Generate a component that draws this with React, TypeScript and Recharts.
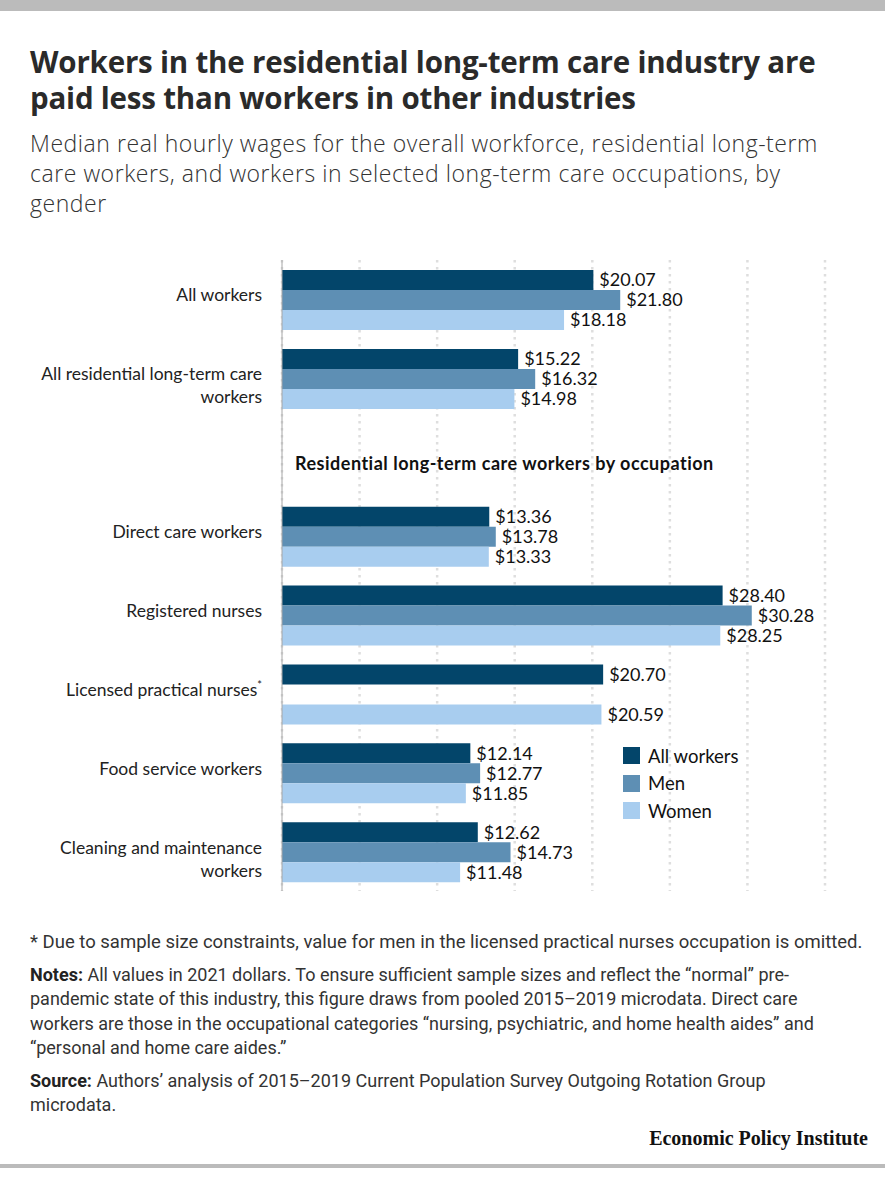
import React from "react";
import {
  BarChart,
  Bar,
  XAxis,
  YAxis,
  CartesianGrid,
  LabelList,
  Legend,
  ReferenceLine,
} from "recharts";

const categories = [
  "All workers",
  "All residential long-term care workers",
  "section",
  "Direct care workers",
  "Registered nurses",
  "Licensed practical nurses",
  "Food service workers",
  "Cleaning and maintenance workers",
];

// wrapped tick text for each category
const tickLines: Record<string, string[]> = {
  "All workers": ["All workers"],
  "All residential long-term care workers": ["All residential long-term care", "workers"],
  section: [],
  "Direct care workers": ["Direct care workers"],
  "Registered nurses": ["Registered nurses"],
  "Licensed practical nurses": ["Licensed practical nurses"],
  "Food service workers": ["Food service workers"],
  "Cleaning and maintenance workers": ["Cleaning and maintenance", "workers"],
};

const footnoted = ["Licensed practical nurses"];

const allWorkers = [20.07, 15.22, null, 13.36, 28.4, 20.7, 12.14, 12.62];
const men = [21.8, 16.32, null, 13.78, 30.28, null, 12.77, 14.73];
const women = [18.18, 14.98, null, 13.33, 28.25, 20.59, 11.85, 11.48];

const xTicks = [0, 5, 10, 15, 20, 25, 30, 35];

const sectionTitle = "Residential long-term care workers by occupation";

const titleLines = [
  "Workers in the residential long-term care industry are",
  "paid less than workers in other industries",
];
const subtitleLines = [
  "Median real hourly wages for the overall workforce, residential long-term",
  "care workers, and workers in selected long-term care occupations, by",
  "gender",
];
const footnote =
  "* Due to sample size constraints, value for men in the licensed practical nurses occupation is omitted.";
const noteLines = [
  "All values in 2021 dollars. To ensure sufficient sample sizes and reflect the “normal” pre-",
  "pandemic state of this industry, this figure draws from pooled 2015–2019 microdata. Direct care",
  "workers are those in the occupational categories “nursing, psychiatric, and home health aides” and",
  "“personal and home care aides.”",
];
const sourceLines = [
  "Authors’ analysis of 2015–2019 Current Population Survey Outgoing Rotation Group",
  "microdata.",
];

const COLORS = { all: "#03456a", men: "#5e8fb4", women: "#a8cdef" };
const FONT = "Lato, 'Open Sans', sans-serif";
const TEXT_FONT = "Roboto, 'Noto Sans', sans-serif";

const rows = categories.map((name, i) => ({
  name,
  all: allWorkers[i],
  men: men[i],
  women: women[i],
}));

const dollars = (v: any) => (v == null ? "" : `$${Number(v).toFixed(2)}`);

function CategoryTick({ x, y, payload }: any) {
  const lines = tickLines[payload.value] || [];
  const star = footnoted.includes(payload.value);
  const right = x - 12;
  return (
    <text
      x={right}
      y={y - 5}
      textAnchor="end"
      fontFamily={FONT}
      fontSize={17.5}
      fill="#222"
      dominantBaseline="central"
    >
      {lines.map((line, i) => (
        <tspan key={i} x={right} dy={i === 0 ? 0 : 23}>
          {line}
          {star && i === lines.length - 1 ? (
            <tspan fontSize={11} dy={-5}>
              *
            </tspan>
          ) : null}
        </tspan>
      ))}
    </text>
  );
}

function SectionLabel({ viewBox }: any) {
  if (!viewBox) return null;
  return (
    <text
      x={viewBox.x + 13}
      y={viewBox.y + 6}
      fontFamily={FONT}
      fontWeight={700}
      fontSize={18}
      letterSpacing={0.5}
      fill="#111"
      dominantBaseline="central"
    >
      {sectionTitle}
    </text>
  );
}

function LegendBox({ payload }: any) {
  return (
    <div style={{ fontFamily: FONT, fontSize: 18.5, color: "#111" }}>
      {(payload || []).map((item: any) => (
        <div
          key={item.value}
          style={{ display: "flex", alignItems: "center", height: 27.5 }}
        >
          <span
            style={{
              display: "inline-block",
              width: 17,
              height: 17,
              background: item.color,
              marginRight: 8,
            }}
          />
          {item.value}
        </div>
      ))}
    </div>
  );
}

const lineStyle: React.CSSProperties = { whiteSpace: "nowrap" };

export default function App() {
  return (
    <div
      style={{
        position: "absolute",
        left: 0,
        top: 0,
        width: 885,
        height: 1200,
        background: "#fff",
        fontFamily: TEXT_FONT,
        color: "#2a2a2a",
        overflow: "hidden",
      }}
    >
      <div style={{ position: "absolute", left: 0, top: 0, width: 885, height: 11, background: "#bbb" }} />

      <div
        style={{
          position: "absolute",
          left: 30,
          top: 44,
          fontFamily: "'Open Sans', sans-serif",
          fontSize: 29.5,
          lineHeight: "36px",
          fontWeight: 700,
          letterSpacing: -0.2,
          color: "#2a2a2a",
        }}
      >
        {titleLines.map((l) => (
          <div key={l} style={lineStyle}>{l}</div>
        ))}
      </div>

      <div
        style={{
          position: "absolute",
          left: 30,
          top: 128,
          fontFamily: "'Open Sans', sans-serif",
          fontSize: 23,
          lineHeight: "30px",
          fontWeight: 300,
          letterSpacing: 0.55,
          color: "#333",
        }}
      >
        {subtitleLines.map((l) => (
          <div key={l} style={lineStyle}>{l}</div>
        ))}
      </div>

      <div style={{ position: "absolute", left: 0, top: 240 }}>
        <BarChart
          width={885}
          height={660}
          data={rows}
          layout="vertical"
          margin={{ top: 20, right: 60, bottom: 9, left: 0 }}
          barCategoryGap={10}
          barGap={0}
        >
          <CartesianGrid
            horizontal={false}
            stroke="#dedede"
            strokeWidth={2.5}
            strokeDasharray="2.5 4.5"
          />
          <XAxis type="number" domain={[0, 35]} ticks={xTicks} hide />
          <YAxis
            type="category"
            dataKey="name"
            width={282}
            axisLine={{ stroke: "#a6a6a6" }}
            tickLine={false}
            tick={<CategoryTick />}
            interval={0}
          />
          <ReferenceLine y="section" stroke="none" label={<SectionLabel />} />
          <Bar dataKey="all" name="All workers" fill={COLORS.all} isAnimationActive={false}>
            <LabelList dataKey="all" position="right" offset={6} formatter={dollars} fill="#111" fontSize={18} fontFamily={FONT} />
          </Bar>
          <Bar dataKey="men" name="Men" fill={COLORS.men} isAnimationActive={false}>
            <LabelList dataKey="men" position="right" offset={6} formatter={dollars} fill="#111" fontSize={18} fontFamily={FONT} />
          </Bar>
          <Bar dataKey="women" name="Women" fill={COLORS.women} isAnimationActive={false}>
            <LabelList dataKey="women" position="right" offset={6} formatter={dollars} fill="#111" fontSize={18} fontFamily={FONT} />
          </Bar>
          <Legend
            layout="vertical"
            align="center"
            verticalAlign="middle"
            content={<LegendBox />}
            wrapperStyle={{ left: 623, top: 502, width: 160 }}
          />
        </BarChart>
      </div>

      <div style={{ position: "absolute", left: 30, top: 930, fontSize: 18.5, lineHeight: "24px", color: "#333", ...lineStyle }}>
        {footnote}
      </div>

      <div style={{ position: "absolute", left: 30, top: 963, fontSize: 18, lineHeight: "24.3px", color: "#333" }}>
        {noteLines.map((l, i) => (
          <div key={i} style={lineStyle}>
            {i === 0 ? <b style={{ color: "#222" }}>Notes: </b> : null}
            {l}
          </div>
        ))}
      </div>

      <div style={{ position: "absolute", left: 30, top: 1069, fontSize: 18, lineHeight: "24.3px", color: "#333" }}>
        {sourceLines.map((l, i) => (
          <div key={i} style={lineStyle}>
            {i === 0 ? <b style={{ color: "#222" }}>Source: </b> : null}
            {l}
          </div>
        ))}
      </div>

      <div
        style={{
          position: "absolute",
          right: 17,
          top: 1127,
          fontFamily: "'Liberation Serif', 'DejaVu Serif', serif",
          fontWeight: 700,
          fontSize: 20,
          color: "#111",
        }}
      >
        Economic Policy Institute
      </div>

      <div style={{ position: "absolute", left: 0, top: 1164, width: 885, height: 4, background: "#bbb" }} />
    </div>
  );
}
